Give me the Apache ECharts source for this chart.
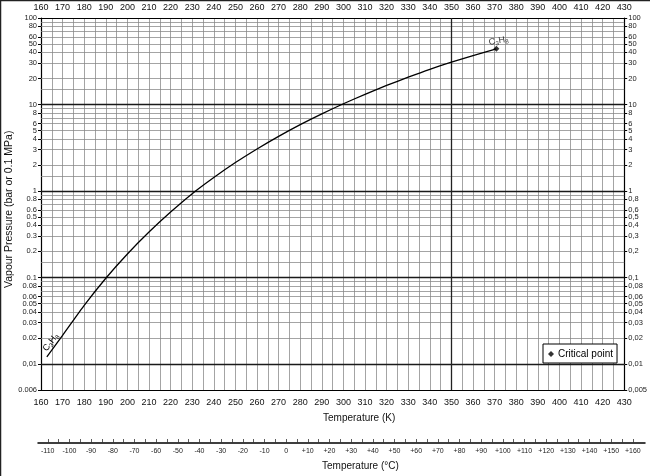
<!DOCTYPE html>
<html>
<head>
<meta charset="utf-8">
<script src="https://cdn.jsdelivr.net/npm/echarts@6/dist/echarts.min.js"></script>
<style>html,body{margin:0;padding:0;background:#fff}#c{width:650px;height:476px}</style>
</head>
<body>
<div id="c"></div>
<script>
// Propane (C3H8) vapour pressure curve
const tempK = [162.7, 170, 180, 190, 200, 210, 220, 230, 240, 250, 260, 270, 280, 290, 300, 310, 320, 330, 340, 350, 360, 370.8];
const pressureBar = [0.0121, 0.0214, 0.0475, 0.098, 0.187, 0.335, 0.57, 0.93, 1.43, 2.13, 3.06, 4.28, 5.85, 7.8, 10.2, 13.1, 16.6, 20.7, 25.5, 30.8, 36.8, 44];
const criticalPoint = [370.8, 44];

const pressureTicks = [100, 80, 60, 50, 40, 30, 20, 10, 8, 6, 5, 4, 3, 2, 1, 0.8, 0.6, 0.5, 0.4, 0.3, 0.2, 0.1, 0.08, 0.06, 0.05, 0.04, 0.03, 0.02, 0.01, 0.005];
const leftLabels = ['100', '80', '60', '50', '40', '30', '20', '10', '8', '6', '5', '4', '3', '2', '1', '0.8', '0.6', '0.5', '0.4', '0.3', '0.2', '0.1', '0.08', '0.06', '0.05', '0.04', '0.03', '0.02', '0,01', '0.006'];
const rightLabels = ['100', '80', '60', '50', '40', '30', '20', '10', '8', '6', '5', '4', '3', '2', '1', '0,8', '0,6', '0,5', '0,4', '0,3', '0,2', '0,1', '0,08', '0,06', '0,05', '0,04', '0,03', '0,02', '0,01', '0,005'];
const gridMultipliers = [1.5, 2, 3, 4, 5, 6, 7, 8, 9];
const gridDecades = [0.001, 0.01, 0.1, 1, 10];
const thickDecades = [0.01, 0.1, 1, 10];
const thickKelvin = [350];
const celsiusLabels = [-110, -100, -90, -80, -70, -60, -50, -40, -30, -20, -10, 0, 10, 20, 30, 40, 50, 60, 70, 80, 90, 100, 110, 120, 130, 140, 150, 160];

const FONT = 'Liberation Sans, Arial, Helvetica, sans-serif';

const minorValues = [];
gridDecades.forEach(d => gridMultipliers.forEach(m => {
  const v = +(d * m).toPrecision(4);
  if (v > 0.005 && v < 100) minorValues.push(v);
}));
const celsiusMinor = [];
for (let c = -110; c <= 160; c += 5) celsiusMinor.push(c);

function lookup(v, labels) {
  let best = 0, bd = Infinity;
  pressureTicks.forEach((t, i) => {
    const d = Math.abs(Math.log(v) - Math.log(t));
    if (d < bd) { bd = d; best = i; }
  });
  return labels[best];
}

const thin = { color: '#858585', width: 0.75, type: 'solid' };
const thick = { color: '#1a1a1a', width: 1.4, type: 'solid' };

const gridLines = []
  .concat(minorValues.map(v => ({ yAxis: v, lineStyle: thin })))
  .concat(thickDecades.map(v => ({ yAxis: v, lineStyle: thick })))
  .concat(thickKelvin.map(v => ({ xAxis: v, lineStyle: { color: '#222', width: 1.3, type: 'solid' } })));

const sub = { fontSize: 6, fontFamily: FONT, color: '#000', padding: [5, 0, 0, 0] };
const main = { fontSize: 9, fontFamily: FONT, color: '#000' };
const formula = '{a|C}{s|3}{a|H}{s|8}';

const chart = echarts.init(document.getElementById('c'), null, { renderer: 'canvas' });
const option = {
  animation: false,
  backgroundColor: '#fff',
  textStyle: { fontFamily: FONT },
  grid: [
    { left: 41, right: 24, top: 18, bottom: 86 },
    { left: 38, right: 5, top: 442, height: 1 }
  ],
  xAxis: [
    {
      gridIndex: 0, type: 'value', min: 160, max: 430, interval: 5, position: 'bottom',
      axisLine: { show: true, onZero: false, lineStyle: { color: '#000', width: 1.2 } },
      axisTick: { show: false },
      axisLabel: { formatter: v => (v % 10 === 0 ? String(v) : ''), fontSize: 9, color: '#111', margin: 8, hideOverlap: false },
      splitLine: { show: true, lineStyle: thin }
    },
    {
      gridIndex: 0, type: 'value', min: 160, max: 430, interval: 10, position: 'top',
      axisLine: { show: true, onZero: false, lineStyle: { color: '#000', width: 1.2 } },
      axisTick: { show: false },
      axisLabel: { fontSize: 9, color: '#111', margin: 6, hideOverlap: false },
      splitLine: { show: false }
    },
    {
      gridIndex: 1, type: 'value', min: -114.5, max: 165.6, position: 'bottom',
      axisLine: { show: true, onZero: false, lineStyle: { color: '#000', width: 1.5 } },
      axisTick: { show: true, inside: true, length: 4, customValues: celsiusMinor, lineStyle: { color: '#333', width: 0.8 } },
      axisLabel: { customValues: celsiusLabels, fontSize: 7, color: '#222', margin: 5,
        formatter: v => (v > 0 ? '+' + v : String(v)) },
      splitLine: { show: false }
    }
  ],
  yAxis: [
    {
      gridIndex: 0, type: 'log', logBase: 10, min: 0.005, max: 100, position: 'left',
      axisLine: { show: true, onZero: false, lineStyle: { color: '#000', width: 1.2 } },
      axisTick: { show: true, length: 3, customValues: pressureTicks, lineStyle: { color: '#000' } },
      axisLabel: { customValues: pressureTicks, fontSize: 7.5, color: '#222', margin: 4, formatter: v => lookup(v, leftLabels) },
      splitLine: { show: false }, minorTick: { show: false }
    },
    {
      gridIndex: 0, type: 'log', logBase: 10, min: 0.005, max: 100, position: 'right',
      axisLine: { show: true, onZero: false, lineStyle: { color: '#000', width: 1.2 } },
      axisTick: { show: true, length: 3, customValues: pressureTicks, lineStyle: { color: '#000' } },
      axisLabel: { customValues: pressureTicks, fontSize: 7.5, color: '#222', margin: 4, formatter: v => lookup(v, rightLabels) },
      splitLine: { show: false }, minorTick: { show: false }
    },
    { gridIndex: 1, type: 'value', show: false, min: 0, max: 1 }
  ],
  legend: {
    data: [{ name: 'Critical point', icon: 'diamond' }],
    left: 543, top: 344,
    itemWidth: 6, itemHeight: 6, itemGap: 4,
    borderColor: '#000', borderWidth: 1, borderRadius: 0,
    backgroundColor: '#fff',
    padding: [5, 4, 4, 5],
    textStyle: { fontSize: 10, color: '#000', fontFamily: FONT, padding: [0, 0, 0, -1] },
    selectedMode: false
  },
  series: [
    {
      name: 'C3H8', type: 'line', xAxisIndex: 0, yAxisIndex: 0,
      data: tempK.map((t, i) => [t, pressureBar[i]]),
      smooth: 0.2, symbol: 'none',
      lineStyle: { color: '#000', width: 1.3 },
      z: 5,
      markLine: { silent: true, symbol: 'none', label: { show: false }, animation: false, data: gridLines, z: 1 },
      markPoint: {
        silent: true, symbol: 'circle', symbolSize: 0,
        data: [{ coord: [164.5, 0.0178], label: { show: true, position: 'inside', rotate: 53, formatter: formula, rich: { a: main, s: sub } } }]
      }
    },
    {
      name: 'Critical point', type: 'scatter', xAxisIndex: 0, yAxisIndex: 0,
      data: [criticalPoint],
      symbol: 'diamond', symbolSize: 6,
      itemStyle: { color: '#000' }, z: 6,
      label: { show: true, position: 'top', distance: 0, offset: [3, 1], rotate: 10, formatter: formula, rich: { a: main, s: sub } }
    }
  ],
  graphic: [
    { type: 'text', left: 323, top: 413, style: { text: 'Temperature (K)', font: '10px ' + FONT, fill: '#111' } },
    { type: 'text', left: 322, top: 461, style: { text: 'Temperature (°C)', font: '10px ' + FONT, fill: '#111' } },
    { type: 'text', x: 4, y: 288, rotation: Math.PI / 2, style: { text: 'Vapour Pressure (bar or 0.1 MPa)', font: '10.5px ' + FONT, fill: '#111' } },
    { type: 'line', shape: { x1: 0.5, y1: 0, x2: 0.5, y2: 476 }, style: { stroke: '#222', lineWidth: 1.5 } },
    { type: 'line', shape: { x1: 0, y1: 0.5, x2: 650, y2: 0.5 }, style: { stroke: '#222', lineWidth: 1.5 } }
  ]
};
chart.setOption(option);
</script>
</body>
</html>
